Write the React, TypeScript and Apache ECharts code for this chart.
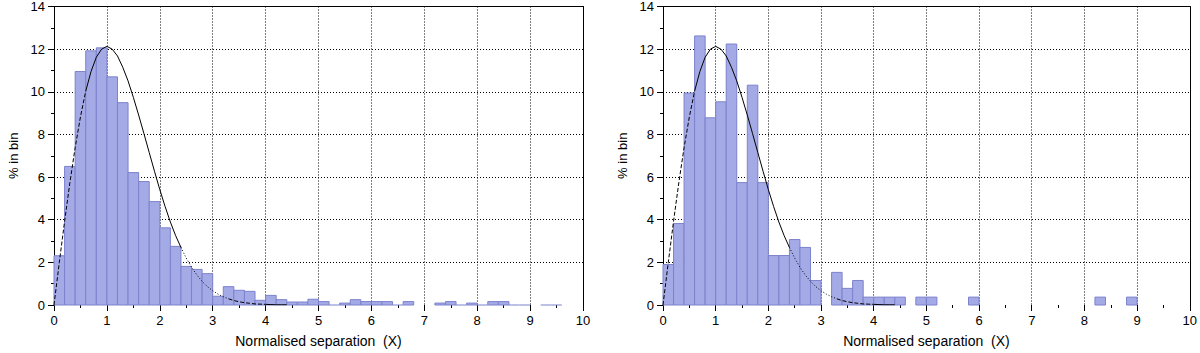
import React, { useEffect, useRef } from "react";
import * as echarts from "echarts";

const BIN_WIDTH = 0.2;

// % in bin, bins of width 0.2 starting at 0 (null = no bar drawn)
const leftBins: (number | null)[] = [
  2.31, 6.5, 10.95, 11.92, 12.06, 10.7, 9.49, 6.21, 5.79, 4.85,
  3.62, 2.75, 1.81, 1.67, 1.47, 0.41, 0.86, 0.69, 0.64, 0.22,
  0.45, 0.25, 0.14, 0.14, 0.27, 0.16, 0, 0.09, 0.25, 0.16,
  0.16, 0.16, 0, 0.16, null, null, 0.09, 0.16, 0, 0.09,
  0, 0.16, 0.16, 0, 0, null, 0, 0,
];

const rightBins: (number | null)[] = [
  1.9, 3.82, 9.94, 12.62, 8.78, 9.53, 12.24, 5.74, 10.31, 5.74,
  2.32, 2.32, 3.07, 2.7, 1.15, null, 1.53, 0.78, 1.15, 0.37,
  0.37, 0.37, 0.37, null, 0.37, 0.37, null, null, null, 0.37,
  null, null, null, null, null, null, null, null, null, null,
  null, 0.37, null, null, 0.37,
];

// reference curve
const curveX = [
  0, 0.1, 0.2, 0.3, 0.4, 0.5, 0.6, 0.7, 0.8, 0.9,
  1.0, 1.1, 1.2, 1.3, 1.4, 1.5, 1.6, 1.7, 1.8, 1.9,
  2.0, 2.1, 2.2, 2.3, 2.4, 2.5, 2.6, 2.7, 2.8, 2.9,
  3.0, 3.1, 3.2, 3.3, 3.4, 3.5, 3.6, 3.7, 3.8, 3.9,
  4.0, 4.1, 4.2, 4.3, 4.4,
];
const curveY = [
  0, 1.99, 3.92, 5.73, 7.38, 8.82, 10.03, 10.95, 11.62, 12.0,
  12.13, 12.0, 11.68, 11.15, 10.51, 9.74, 8.91, 8.04, 7.15, 6.27,
  5.41, 4.62, 3.89, 3.25, 2.7, 2.2, 1.77, 1.41, 1.11, 0.86,
  0.67, 0.51, 0.39, 0.29, 0.21, 0.15, 0.11, 0.08, 0.05, 0.04,
  0.03, 0.02, 0.01, 0.01, 0.01,
];

const xTicks = [0, 10, 1];
const yTicks = [0, 14, 2];
const xName = "Normalised separation  (X)";
const yName = "% in bin";

const FONT = "Liberation Sans, Arial, Helvetica, sans-serif";
const BAR_FILL = "#a4aae6";
const BAR_STROKE = "#7c82cc";

function binData(bins: (number | null)[]) {
  const out: number[][] = [];
  bins.forEach((v, i) => {
    if (v === null) return;
    const x0 = +(i * BIN_WIDTH).toFixed(2);
    out.push([x0, +(x0 + BIN_WIDTH).toFixed(2), v]);
  });
  return out;
}

const renderBar = (params: any, api: any) => {
  const x0 = api.value(0);
  const x1 = api.value(1);
  const y = api.value(2);
  const p0 = api.coord([x0, y]);
  const p1 = api.coord([x1, 0]);
  if (y > 0) {
    return {
      type: "rect",
      shape: { x: p0[0], y: p0[1], width: p1[0] - p0[0], height: p1[1] - p0[1] },
      style: { fill: BAR_FILL, stroke: BAR_STROKE, lineWidth: 1 },
    };
  }
  return {
    type: "line",
    shape: { x1: p0[0], y1: p1[1], x2: p1[0], y2: p1[1] },
    style: { stroke: BAR_STROKE, lineWidth: 1 },
  };
};

const segments: [number, number, any][] = [
  [0, 6, [4, 2]],
  [6, 24, "solid"],
  [24, 33, [1, 2]],
  [33, 40, [4, 2]],
  [40, 44, "solid"],
];

function curveSeries(xi: number, yi: number) {
  return segments.map(([a, b, type]) => ({
    type: "line",
    xAxisIndex: xi,
    yAxisIndex: yi,
    data: curveX.slice(a, b + 1).map((x, k) => [x, curveY[a + k]]),
    showSymbol: false,
    symbol: "none",
    smooth: false,
    lineStyle: { color: "#000", width: 1, type },
    z: 5,
  }));
}

const dotted = { show: true, showMinLine: false, showMaxLine: false, lineStyle: { color: "#000", width: 1, type: [1, 2] } };

function mainX(gridIndex: number) {
  return {
    type: "value",
    gridIndex,
    position: "bottom",
    min: xTicks[0],
    max: xTicks[1],
    interval: xTicks[2],
    name: xName,
    nameLocation: "middle",
    nameGap: 29,
    nameTextStyle: { color: "#000", fontSize: 14, fontFamily: FONT },
    axisLine: { show: false },
    axisTick: { show: true, inside: false, length: 6, lineStyle: { color: "#000" } },
    minorTick: { show: true, splitNumber: 2, length: 3, lineStyle: { color: "#000" } },
    axisLabel: { color: "#000", fontSize: 13, fontFamily: FONT, margin: 9 },
    splitLine: dotted,
  };
}
function frameX(gridIndex: number) {
  return {
    type: "value",
    gridIndex,
    position: "top",
    min: xTicks[0],
    max: xTicks[1],
    axisLine: { show: true, onZero: false, lineStyle: { color: "#000", width: 1 } },
    axisTick: { show: false },
    axisLabel: { show: false },
    splitLine: { show: false },
  };
}
function mainY(gridIndex: number) {
  return {
    type: "value",
    gridIndex,
    position: "left",
    min: yTicks[0],
    max: yTicks[1],
    interval: yTicks[2],
    name: yName,
    nameLocation: "middle",
    nameGap: 34,
    nameTextStyle: { color: "#000", fontSize: 13, fontFamily: FONT },
    axisLine: { show: true, onZero: false, lineStyle: { color: "#000", width: 1 } },
    axisTick: { show: true, inside: false, length: 6, lineStyle: { color: "#000" } },
    minorTick: { show: true, splitNumber: 2, length: 3, lineStyle: { color: "#000" } },
    axisLabel: { color: "#000", fontSize: 13, fontFamily: FONT, margin: 9 },
    splitLine: dotted,
  };
}
function frameY(gridIndex: number) {
  return {
    type: "value",
    gridIndex,
    position: "right",
    min: yTicks[0],
    max: yTicks[1],
    axisLine: { show: true, onZero: false, lineStyle: { color: "#000", width: 1 } },
    axisTick: { show: true, inside: false, length: 0 },
    axisLabel: { show: false },
    splitLine: { show: false },
  };
}

export default function App() {
  const ref = useRef<HTMLDivElement>(null);
  useEffect(() => {
    document.body.style.margin = "0";
    if (!ref.current) return;
    const chart = echarts.init(ref.current, null, { renderer: "svg" });
    chart.setOption({
      animation: false,
      backgroundColor: "#fff",
      grid: [
        { left: 54, top: 6, width: 529, height: 300 },
        { left: 663, top: 6, width: 529, height: 300 },
      ],
      xAxis: [mainX(0), frameX(0), mainX(1), frameX(1)],
      yAxis: [mainY(0), frameY(0), mainY(1), frameY(1)],
      series: [
        {
          type: "custom",
          xAxisIndex: 0,
          yAxisIndex: 0,
          renderItem: renderBar,
          encode: { x: [0, 1], y: 2 },
          data: binData(leftBins),
          z: 2,
        },
        {
          type: "custom",
          xAxisIndex: 2,
          yAxisIndex: 2,
          renderItem: renderBar,
          encode: { x: [0, 1], y: 2 },
          data: binData(rightBins),
          z: 2,
        },
        ...curveSeries(0, 0),
        ...curveSeries(2, 2),
      ],
    });
    return () => chart.dispose();
  }, []);
  return <div ref={ref} style={{ width: 1200, height: 353 }} />;
}
